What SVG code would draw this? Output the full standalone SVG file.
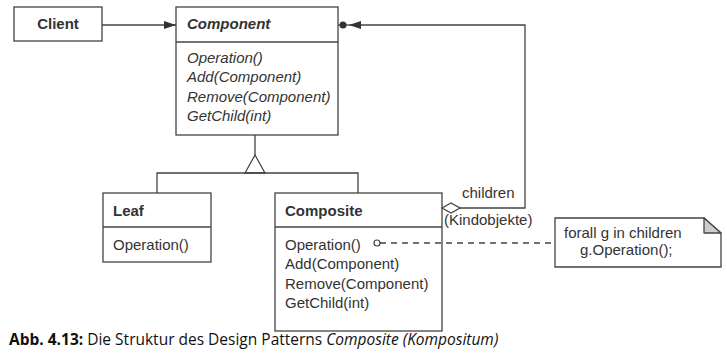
<svg xmlns="http://www.w3.org/2000/svg" width="727" height="363" viewBox="0 0 727 363">
  <style>
    .box { fill: #fff; stroke: #444; stroke-width: 1.3; }
    .ln { fill: none; stroke: #444; stroke-width: 1.3; }
    .t { font-family: "Liberation Sans", Arial, sans-serif; font-size: 15px; fill: #333; }
    .b { font-weight: bold; }
    .i { font-style: italic; }
    .cap { font-family: "Open Sans", "Noto Sans", sans-serif; font-size: 15.5px; fill: #111; }
  </style>
  <defs>
    <marker id="arrowFilled" viewBox="0 0 12 8" refX="12" refY="4" markerWidth="12" markerHeight="8" markerUnits="userSpaceOnUse" orient="auto">
      <path d="M0,0 L12,4 L0,8 Z" fill="#333"/>
    </marker>
  </defs>
  <rect width="727" height="363" fill="#fff"/>

  <!-- Client -->
  <g id="client">
    <rect class="box" x="14" y="7" width="88" height="34"/>
    <text class="t b" x="58" y="29" text-anchor="middle">Client</text>
  </g>

  <!-- Component (abstract) -->
  <g id="component">
    <rect class="box" x="176" y="7" width="162" height="128"/>
    <line class="ln" x1="176" y1="42" x2="338" y2="42"/>
    <text class="t b i" x="187" y="29">Component</text>
    <text class="t i" x="187" y="63">Operation()</text>
    <text class="t i" x="187" y="82">Add(Component)</text>
    <text class="t i" x="187" y="102">Remove(Component)</text>
    <text class="t i" x="187" y="121">GetChild(int)</text>
  </g>

  <!-- Leaf -->
  <g id="leaf">
    <rect class="box" x="103" y="193" width="108" height="69"/>
    <line class="ln" x1="103" y1="227" x2="211" y2="227"/>
    <text class="t b" x="113" y="216">Leaf</text>
    <text class="t" x="113" y="250">Operation()</text>
  </g>

  <!-- Composite -->
  <g id="composite">
    <rect class="box" x="275" y="193" width="167" height="138"/>
    <line class="ln" x1="275" y1="227" x2="442" y2="227"/>
    <text class="t b" x="285" y="216">Composite</text>
    <text class="t" x="285" y="250">Operation()</text>
    <text class="t" x="285" y="269">Add(Component)</text>
    <text class="t" x="285" y="289">Remove(Component)</text>
    <text class="t" x="285" y="308">GetChild(int)</text>
  </g>

  <!-- Note -->
  <g id="note">
    <path class="box" d="M555,218 H704 L721,233 V267 H555 Z"/>
    <path d="M704,218 L721,233 H704 Z" fill="#ccc" stroke="#444" stroke-width="1.3" stroke-linejoin="round"/>
    <text class="t" x="564" y="238">forall g in children</text>
    <text class="t" x="580" y="255">g.Operation();</text>
  </g>

  <!-- Connectors -->
  <g id="connectors">
    <!-- Client uses Component -->
    <line class="ln" x1="102" y1="25" x2="176" y2="25" marker-end="url(#arrowFilled)"/>

    <!-- Generalization -->
    <line class="ln" x1="255" y1="135" x2="255" y2="155"/>
    <path class="ln" d="M255,155 L265,173 L245,173 Z" fill="#fff"/>
    <path class="ln" d="M157,193 V173 H358 V193"/>

    <!-- Aggregation: children -->
    <path class="ln" d="M460,208 H525 V25 H349" marker-end="url(#arrowFilled)"/>
    <line class="ln" x1="338" y1="25" x2="349" y2="25"/>
    <circle cx="343" cy="25" r="3.5" fill="#333"/>
    <path d="M442,208 L451,203 L460,208 L451,213 Z" fill="#fff" stroke="#444" stroke-width="1.3"/>
    <text class="t" x="462" y="198">children</text>
    <text class="t" x="444" y="225">(Kindobjekte)</text>

    <!-- Note anchor -->
    <circle cx="377" cy="243" r="3" fill="#fff" stroke="#444" stroke-width="1.2"/>
    <line class="ln" x1="380" y1="243" x2="555" y2="243" stroke-dasharray="6,5"/>
  </g>

  <!-- Caption -->
  <text class="cap" x="9" y="345"><tspan font-weight="bold">Abb. 4.13:</tspan> Die Struktur des Design Patterns <tspan font-style="italic">Composite (Kompositum)</tspan></text>
</svg>
